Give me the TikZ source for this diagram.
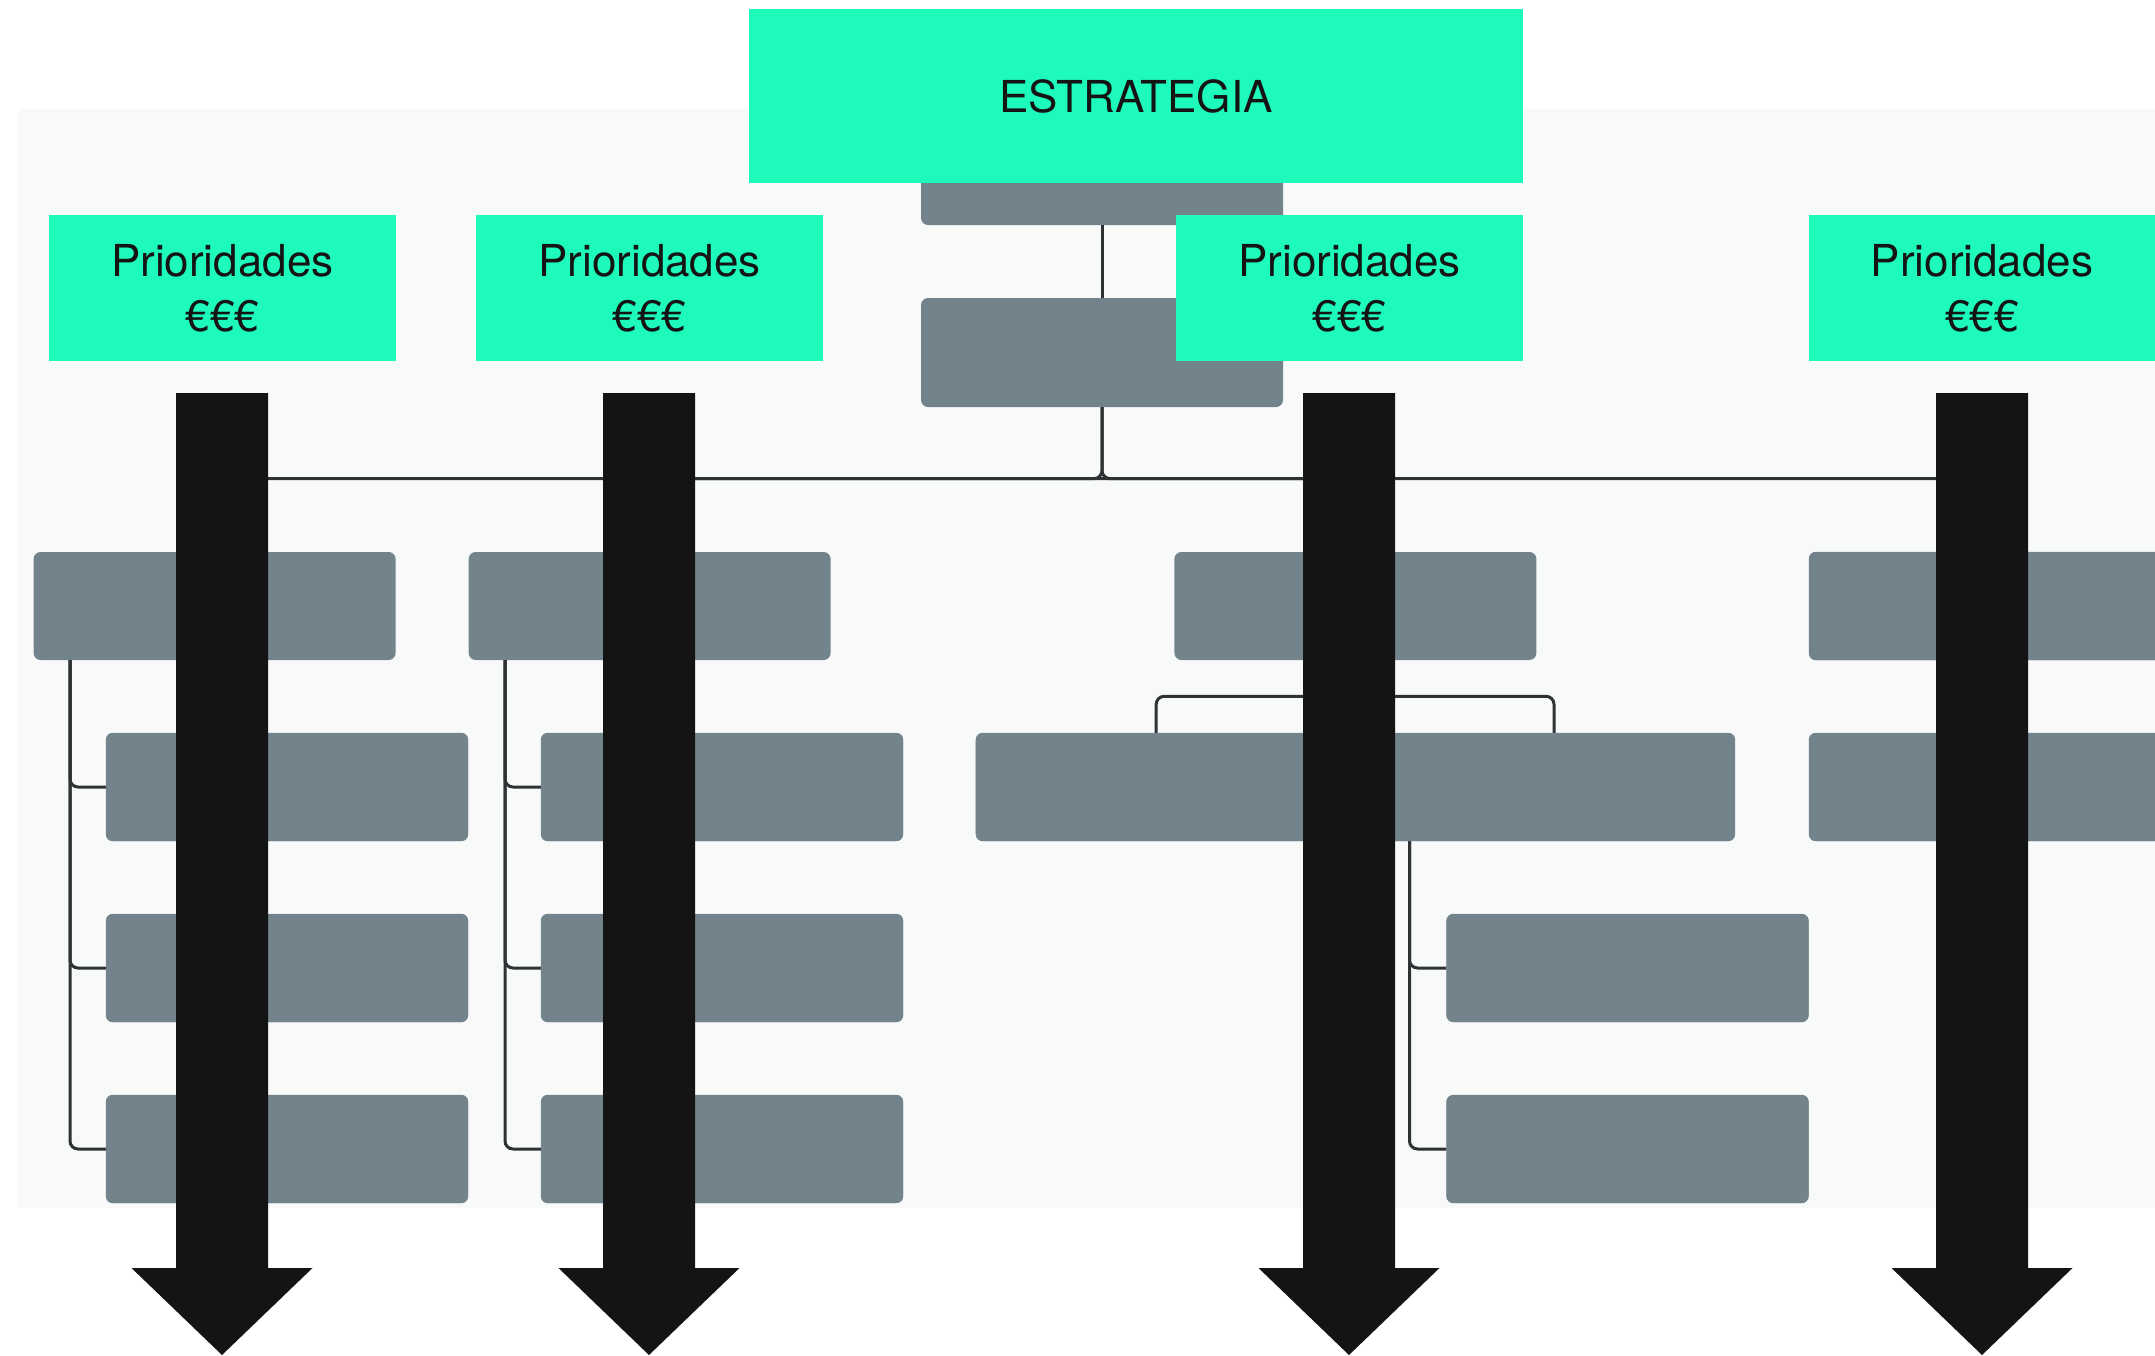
\documentclass[tikz,border=0pt]{standalone}
\usepackage{fontspec}
\setmainfont{TeX Gyre Heros}
\definecolor{mint}{HTML}{1DFABB}
\definecolor{slate}{HTML}{72838B}
\definecolor{panel}{HTML}{F8FAFA}
\definecolor{ink}{HTML}{141414}
\definecolor{linec}{HTML}{2E3234}
\begin{document}
\begin{tikzpicture}[x=1pt,y=-1pt,
  gbox/.style={fill=slate,rounded corners=7pt,minimum width=362pt,minimum height=108pt,inner sep=0pt},
  mbox/.style={fill=mint,inner sep=0pt,text=ink,align=center,font=\fontsize{44}{55}\selectfont},
  conn/.style={draw=linec,line width=3pt,rounded corners=8pt},
  bigarrow/.style={fill=ink,draw=none}]
\useasboundingbox (0,0) rectangle (2155,1355);
\fill[white] (0,0) rectangle (2155,1355);
\fill[panel] (17.5,109) rectangle (2155,1208);

% grey org boxes
\node[gbox] (g0) at (1102,171) {};
\node[gbox,minimum height=109pt] (g1) at (1102,352.5) {};
\node[gbox] (b21) at (214.6,606) {};
\node[gbox] (b22) at (649.6,606) {};
\node[gbox] (b23) at (1355.4,606) {};
\node[gbox] (b24) at (1990,606) {};
\node[gbox] (b31) at (287,787) {};
\node[gbox] (b32) at (287,968) {};
\node[gbox] (b33) at (287,1149) {};
\node[gbox] (c31) at (722,787) {};
\node[gbox] (c32) at (722,968) {};
\node[gbox] (c33) at (722,1149) {};
\node[gbox,minimum width=759pt] (w3) at (1355.4,787) {};
\node[gbox] (d3) at (1990,787) {};
\node[gbox] (e41) at (1627.5,968) {};
\node[gbox] (e42) at (1627.5,1149) {};

% connectors
\coordinate (j) at (1102,478.6);
\coordinate (k) at (1355.4,696.3);
\draw[conn] (g0.south) -- (g1.north);
\draw[conn] (g1.south) -- (j) -| (b21.north);
\draw[conn] (g1.south) -- (j) -| (b24.north);
\draw[conn] (j) -| (b22.north);
\draw[conn] (j) -| (b23.north);
\draw[conn] ([xshift=-144.6pt]b21.south) |- (b31.west);
\draw[conn] ([xshift=-144.6pt]b21.south) |- (b32.west);
\draw[conn] ([xshift=-144.6pt]b21.south) |- (b33.west);
\draw[conn] ([xshift=-144.6pt]b22.south) |- (c31.west);
\draw[conn] ([xshift=-144.6pt]b22.south) |- (c32.west);
\draw[conn] ([xshift=-144.6pt]b22.south) |- (c33.west);
\draw[conn] (b23.south) -- (k);
\draw[conn] (k) -| ([xshift=-199.2pt]w3.north);
\draw[conn] (k) -| ([xshift=198.6pt]w3.north);
\draw[conn] (b24.south) -- (d3.north);
\draw[conn] ([xshift=54.1pt]w3.south) |- (e41.west);
\draw[conn] ([xshift=54.1pt]w3.south) |- (e42.west);
% redraw boxes over connector ends
\foreach \n in {b31,b32,b33,c31,c32,c33,w3,d3,e41,e42,b24}{\fill[slate,rounded corners=7pt] (\n.south west) rectangle (\n.north east);}

% mint boxes
\node[mbox,minimum width=774pt,minimum height=174pt] (est) at (1136,96) {ESTRATEGIA};
\node[mbox,minimum width=347pt,minimum height=146pt] (p1) at (222.3,288) {Prioridades\\€€€};
\node[mbox,minimum width=347pt,minimum height=146pt] (p2) at (649.6,288) {Prioridades\\€€€};
\node[mbox,minimum width=347pt,minimum height=146pt] (p3) at (1349.5,288) {Prioridades\\€€€};
\node[mbox,minimum width=347pt,minimum height=146pt] (p4) at (1982,288) {Prioridades\\€€€};

% big arrows
\foreach \c in {222,649,1349,1982}{
  \fill[bigarrow] (\c-46,393) -- (\c+46,393) -- (\c+46,1268) -- (\c+90.5,1268) -- (\c,1355) -- (\c-90.5,1268) -- (\c-46,1268) -- cycle;
}
\end{tikzpicture}
\end{document}
